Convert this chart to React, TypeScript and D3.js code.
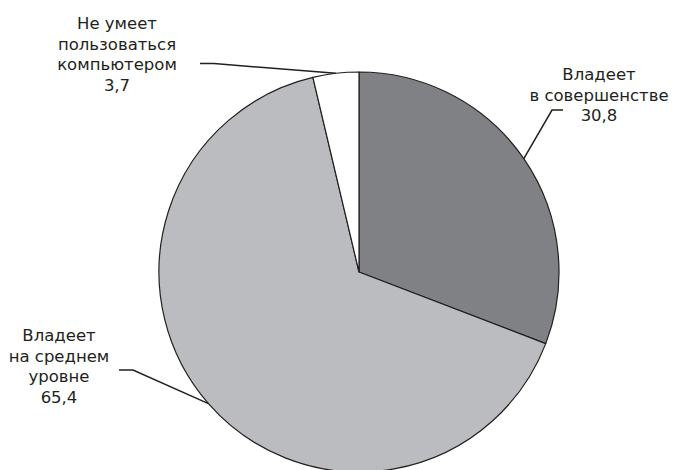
import React from "react";
import * as d3 from "d3";

const categories = ["Владеет в совершенстве", "Владеет на среднем уровне", "Не умеет пользоваться компьютером"];
const values = [30.8, 65.4, 3.7];
const labelLines = [
  ["Владеет", "в совершенстве", "30,8"],
  ["Владеет", "на среднем", "уровне", "65,4"],
  ["Не умеет", "пользоваться", "компьютером", "3,7"],
];
const colors = ["#808184", "#bbbcbf", "#ffffff"];

const W = 676, H = 470;
const cx = 359, cy = 272, R = 200;

// label anchor config (layout only)
const labelPos = [
  { x: 599, y: 80, leader: [[563, 110], [552, 110]] as [number, number][] },
  { x: 59, y: 341, leader: [[119, 370], [133, 370]] as [number, number][] },
  { x: 117, y: 29, leader: [[200, 63.5], [214, 63.5]] as [number, number][] },
];

export default function App() {
  const pie = d3.pie<number>().sort(null).value((d) => d).startAngle(0).endAngle(2 * Math.PI);
  const arcs = pie(values);
  const arc = d3.arc<d3.PieArcDatum<number>>().innerRadius(0).outerRadius(R);
  const line = d3.line();
  return (
    <svg width={W} height={H} style={{ position: "absolute", left: 0, top: 0, background: "#fff" }}
      fontFamily="'DejaVu Sans', sans-serif">
      <g transform={`translate(${cx},${cy})`}>
        {arcs.map((a, i) => (
          <path key={categories[i]} d={arc(a) || ""} fill={colors[i]} stroke="#231f20" strokeWidth={1.2} strokeLinejoin="round" />
        ))}
      </g>
      {labelPos.map((lp, i) => {
        const a = arcs[i];
        const ang = (a.startAngle + a.endAngle) / 2;
        const end: [number, number] = [cx + Math.sin(ang) * R, cy - Math.cos(ang) * R];
        return (
          <g key={i}>
            <path d={line([...lp.leader, end]) || ""} fill="none" stroke="#231f20" strokeWidth={1.5} />
            {labelLines[i].map((t, j) => (
              <text key={j} x={lp.x} y={lp.y + j * 20.5} textAnchor="middle" fontSize={16.5} fill="#231f20">{t}</text>
            ))}
          </g>
        );
      })}
    </svg>
  );
}
